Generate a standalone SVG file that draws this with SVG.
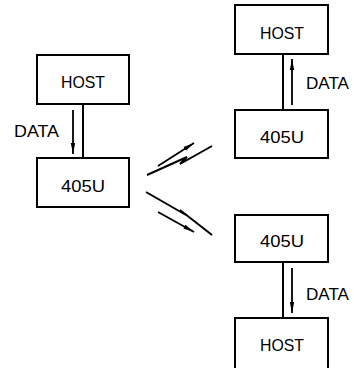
<svg xmlns="http://www.w3.org/2000/svg" width="354" height="368" viewBox="0 0 354 368">
<defs>
<style>
.box{fill:#fff;stroke:#000;stroke-width:2}
.lbl{font-family:"Liberation Sans",Arial,sans-serif;font-size:17px;fill:#000}
.c{text-anchor:middle}
.ln{fill:none;stroke:#000;stroke-width:2}
.ar{fill:none;stroke:#000;stroke-width:1.8;marker-end:url(#ah)}
</style>
<marker id="ah" markerUnits="userSpaceOnUse" markerWidth="12" markerHeight="6" refX="11" refY="3" orient="auto">
<path d="M0,0.8 L11,3 L0,5.2 z" fill="#000"/>
</marker>
</defs>
<rect width="354" height="368" fill="#fff"/>
<g id="connectors">
<line class="ln" x1="83" y1="104" x2="83" y2="158"/>
<line class="ar" x1="73" y1="110" x2="73" y2="154"/>
<line class="ln" x1="283" y1="54" x2="283" y2="110"/>
<line class="ar" x1="292" y1="105" x2="292" y2="59"/>
<line class="ln" x1="283" y1="262" x2="283" y2="318"/>
<line class="ar" x1="292" y1="268" x2="292" y2="313"/>
<polyline class="ln" points="147,175 187,157 180,164 212,146" stroke-width="1.8"/>
<line class="ar" x1="158" y1="166" x2="194" y2="143"/>
<polyline class="ln" points="146,192 186,215 180,210 212,235" stroke-width="1.8"/>
<line class="ar" x1="158" y1="212" x2="194" y2="232"/>
<text class="lbl" x="14" y="137" textLength="45" lengthAdjust="spacingAndGlyphs">DATA</text>
<text class="lbl" x="306" y="89" textLength="43" lengthAdjust="spacingAndGlyphs">DATA</text>
<text class="lbl" x="306" y="300" textLength="43" lengthAdjust="spacingAndGlyphs">DATA</text>
</g>
<g id="host-left">
<rect class="box" x="37" y="55" width="92" height="49"/>
<text class="lbl c" x="83" y="88" textLength="44" lengthAdjust="spacingAndGlyphs">HOST</text>
</g>
<g id="u405-left">
<rect class="box" x="37" y="158" width="92" height="49"/>
<text class="lbl c" x="83" y="192" textLength="44" lengthAdjust="spacingAndGlyphs">405U</text>
</g>
<g id="host-top">
<rect class="box" x="235" y="5" width="93" height="49"/>
<text class="lbl c" x="282" y="39" textLength="44" lengthAdjust="spacingAndGlyphs">HOST</text>
</g>
<g id="u405-top">
<rect class="box" x="235" y="110" width="93" height="48"/>
<text class="lbl c" x="282" y="143" textLength="44" lengthAdjust="spacingAndGlyphs">405U</text>
</g>
<g id="u405-bottom">
<rect class="box" x="235" y="215" width="93" height="47"/>
<text class="lbl c" x="282" y="247" textLength="44" lengthAdjust="spacingAndGlyphs">405U</text>
</g>
<g id="host-bottom">
<rect class="box" x="235" y="318" width="93" height="60"/>
<text class="lbl c" x="282" y="351" textLength="44" lengthAdjust="spacingAndGlyphs">HOST</text>
</g>
</svg>
